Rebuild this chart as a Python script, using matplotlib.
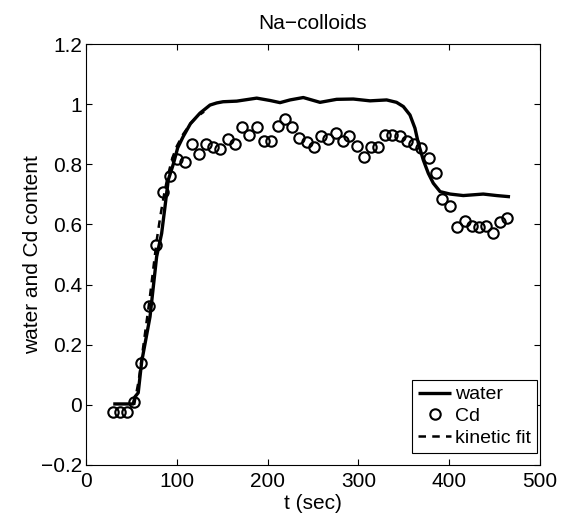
import matplotlib
matplotlib.use("Agg")
import matplotlib.pyplot as plt

plt.rcParams['font.family'] = ['Liberation Sans', 'DejaVu Sans']

# Cd measurements
cd_t = [30, 37.5, 45.5, 53, 60.5, 69, 77, 84.5, 92.5, 100, 109, 117, 124, 132,
        140, 148, 156, 164, 172, 180, 188, 195.5, 203.5, 211, 219, 227, 235,
        243, 251, 259, 267, 275, 282.5, 290, 298, 306, 314, 322, 329.5, 337.5,
        345.5, 354, 361, 369, 378, 385, 392.5, 401, 409, 417.5, 425.5, 433,
        441, 448.5, 456, 464]
cd_v = [-0.023, -0.023, -0.023, 0.008, 0.138, 0.329, 0.532, 0.709, 0.762, 0.817,
        0.809, 0.867, 0.834, 0.867, 0.858, 0.852, 0.884, 0.866, 0.923, 0.897,
        0.925, 0.877, 0.877, 0.927, 0.950, 0.923, 0.886, 0.873, 0.858, 0.894,
        0.884, 0.903, 0.878, 0.895, 0.861, 0.825, 0.858, 0.858, 0.897, 0.897,
        0.894, 0.878, 0.867, 0.853, 0.820, 0.772, 0.684, 0.661, 0.592, 0.611,
        0.596, 0.590, 0.596, 0.572, 0.609, 0.621]

# water content
w_t = [30, 40, 52, 54, 57.5, 61.3, 70.5, 77.8, 83.3, 87, 90.6, 96.1, 101,
       107, 115, 125.5, 136.6, 144, 151, 166, 177, 188, 203, 213.7, 224.7, 239.3,
       257.7, 276, 294.4, 312.8, 331.1, 342, 349.5, 356.8, 362.3, 366, 371.5,
       377, 382.5, 390, 401, 415.5, 437.5, 452.3, 467]
w_v = [0.003, 0.003, 0.003, 0.027, 0.04, 0.143, 0.293, 0.493, 0.57, 0.659,
       0.748, 0.80, 0.855, 0.892, 0.935, 0.97, 0.997, 1.004, 1.008, 1.01, 1.015,
       1.02, 1.012, 1.005, 1.014, 1.022, 1.006, 1.016, 1.017, 1.011, 1.014,
       1.006, 0.992, 0.964, 0.92, 0.87, 0.814, 0.77, 0.737, 0.709, 0.701,
       0.696, 0.701, 0.696, 0.692]

# kinetic fit
k_t = [53, 58, 62, 66, 70, 74, 78, 82, 86, 90, 95, 100, 107, 115, 122, 130]
k_v = [0.0, 0.08, 0.17, 0.26, 0.35, 0.45, 0.55, 0.63, 0.70, 0.76, 0.82, 0.86,
       0.90, 0.935, 0.958, 0.975]

xticks = [0, 100, 200, 300, 400, 500]
yticks = [-0.2, 0, 0.2, 0.4, 0.6, 0.8, 1.0, 1.2]
yticklabels = ['\u22120.2', '0', '0.2', '0.4', '0.6', '0.8', '1', '1.2']

fig = plt.figure(figsize=(5.64, 5.14), dpi=100)
ax = fig.add_axes([86/564, 49/514, 454/564, 421/514])

ax.plot(w_t, w_v, color='black', lw=2.4, label='water', zorder=3,
        solid_joinstyle='round', solid_capstyle='butt')
ax.plot(cd_t, cd_v, linestyle='none', marker='o', markersize=7.5,
        markerfacecolor='none', markeredgecolor='black', markeredgewidth=1.5,
        label='Cd', zorder=4)
ax.plot(k_t, k_v, color='black', lw=1.8, linestyle=(0, (3, 2.5)),
        label='kinetic fit', zorder=2)

ax.set_xlim(0, 500)
ax.set_ylim(-0.2, 1.2)
ax.set_xticks(xticks)
ax.set_yticks(yticks)
ax.set_yticklabels(yticklabels)
ax.tick_params(direction='in', top=True, right=True, length=4, width=0.8,
               labelsize=15)
ax.tick_params(axis='x', pad=5)
ax.tick_params(axis='y', pad=3)
for s in ax.spines.values():
    s.set_linewidth(0.8)

ax.set_title('Na\u2212colloids', fontsize=15, pad=11)
ax.set_xlabel('t (sec)', fontsize=15, labelpad=2)
ax.set_ylabel('water and Cd content', fontsize=15, labelpad=-1)

leg = ax.legend(loc='lower right', bbox_to_anchor=(0.9934, 0.0285),
                fontsize=14, frameon=True, fancybox=False,
                edgecolor='black', framealpha=1, handlelength=1.7,
                handletextpad=0.2, borderpad=0.3, labelspacing=0.22,
                borderaxespad=0)
leg.get_frame().set_linewidth(0.8)

fig.savefig('out.png', dpi=100)
